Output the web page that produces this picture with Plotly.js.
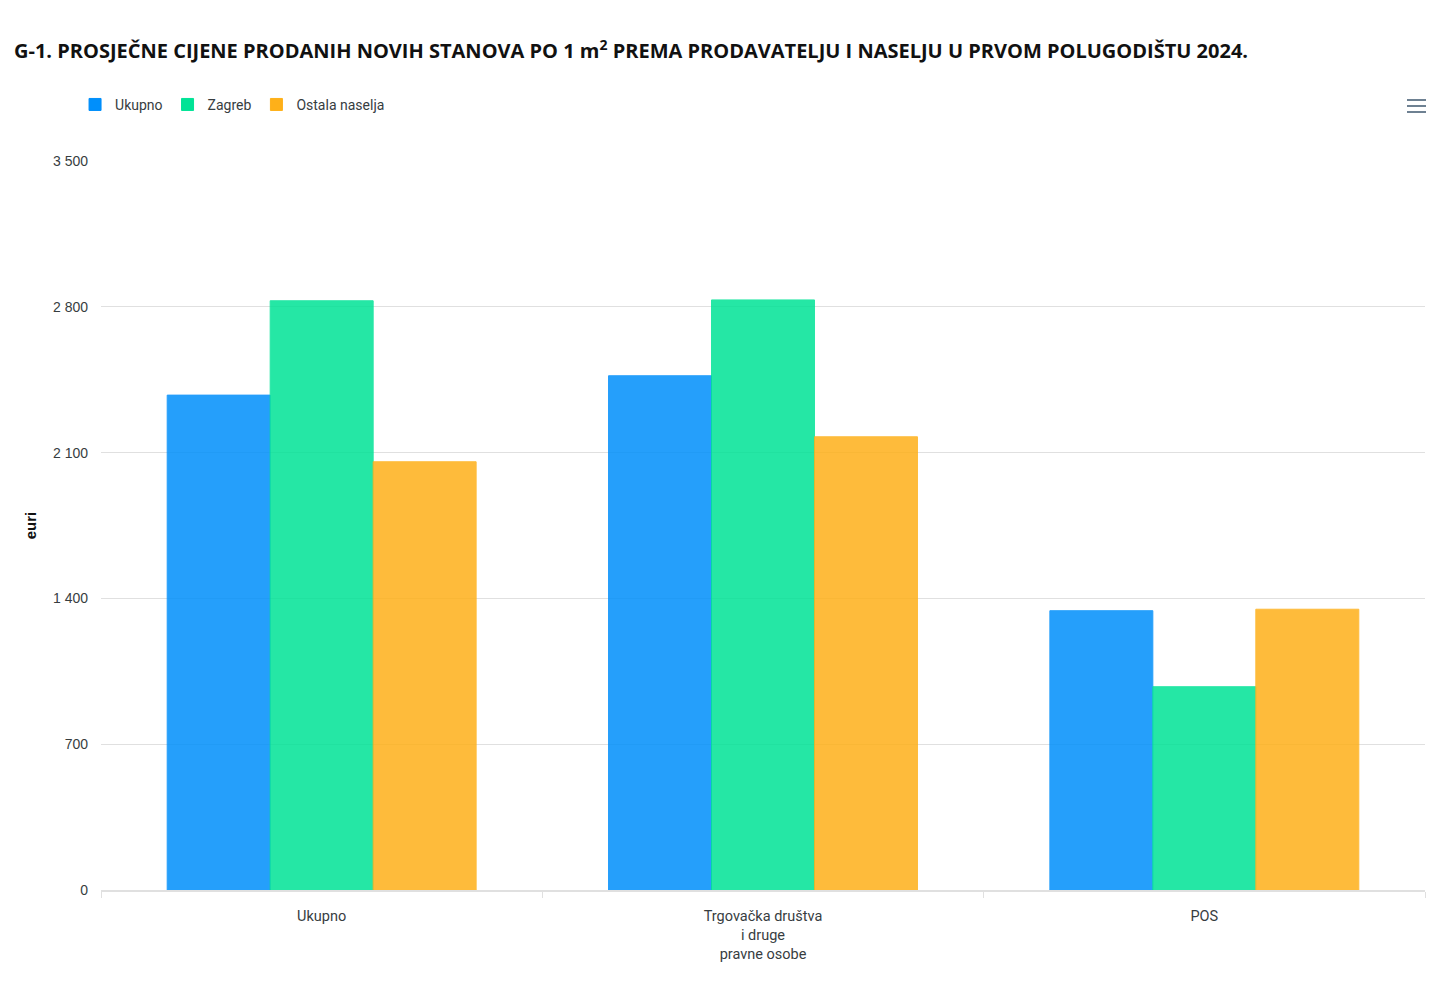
<!DOCTYPE html>
<html>
<head>
<meta charset="utf-8">
<script src="https://cdn.plot.ly/plotly-3.0.1.min.js"></script>
<style>
html,body{margin:0;padding:0;background:#fff;}
#chart{width:1442px;height:989px;}
</style>
</head>
<body>
<div id="chart"></div>
<script>
const categories = ['Ukupno', 'Trgovačka društva<br>i druge<br>pravne osobe', 'POS'];
const seriesNames = ['Ukupno', 'Zagreb', 'Ostala naselja'];
const ukupno = [2376, 2469, 1341];
const zagreb = [2829, 2833, 976];
const ostala = [2056, 2176, 1348];
const yTicks = [0, 700, 1400, 2100, 2800, 3500];
const colors = ['#008FFB', '#00E396', '#FEB019'];

const seriesValues = [ukupno, zagreb, ostala];
const traces = seriesValues.map((vals, i) => ({
  type: 'bar',
  name: seriesNames[i],
  x: categories,
  y: vals,
  marker: {color: colors[i], opacity: 0.85, line: {color: colors[i], width: 1}},
  hoverinfo: 'x+y+name'
}));

const layout = {
  width: 1442, height: 989,
  margin: {l: 101, r: 17, t: 161, b: 99},
  paper_bgcolor: '#fff', plot_bgcolor: '#fff',
  separators: ', ',
  barmode: 'group',
  bargap: 0.3,
  bargroupgap: 0,
  title: {
    text: 'G-1. PROSJEČNE CIJENE PRODANIH NOVIH STANOVA PO 1 m<sup>2</sup> PREMA PRODAVATELJU I NASELJU U PRVOM POLUGODIŠTU 2024.',
    font: {family: 'Open Sans', size: 20, color: '#111', weight: 'bold'},
    x: 14/1442, xanchor: 'left', xref: 'container', y: 1 - 51/989, yanchor: 'middle', yref: 'container'
  },
  showlegend: true,
  legend: {
    orientation: 'h',
    x: -0.0196, xanchor: 'left',
    y: 1.077, yanchor: 'middle',
    font: {family: 'Roboto', size: 14, color: '#373d3f'},
    tracegroupgap: 0,
    traceorder: 'normal'
  },
  xaxis: {
    type: 'category',
    showgrid: false,
    showline: true, linecolor: '#e0e0e0', linewidth: 2,
    ticks: 'outside', tickson: 'boundaries', ticklen: 6, tickcolor: '#e0e0e0',
    ticklabelstandoff: 12,
    tickfont: {family: 'Roboto', size: 14.5, color: '#373d3f'},
    fixedrange: true
  },
  yaxis: {
    range: [0, 3500],
    tickvals: yTicks,
    tickformat: ',d',
    showgrid: true, gridcolor: '#e0e0e0', gridwidth: 1,
    zeroline: false,
    showline: false,
    ticks: '', ticklabelstandoff: 12,
    tickfont: {family: 'Liberation Sans', size: 14, color: '#373d3f'},
    title: {text: 'euri', font: {family: 'Liberation Sans', size: 15, color: '#111', weight: 'bold'}, standoff: 12},
    fixedrange: true
  },
  shapes: [0, 6, 12].map(d => ({
    type: 'line', xref: 'paper', yref: 'paper',
    x0: (1407 - 101) / 1324, x1: (1426 - 101) / 1324,
    y0: (890 - (100 + d)) / 729, y1: (890 - (100 + d)) / 729,
    line: {color: '#6e8192', width: 2}
  }))
};

Plotly.newPlot('chart', traces, layout, {displayModeBar: false});
</script>
</body>
</html>
